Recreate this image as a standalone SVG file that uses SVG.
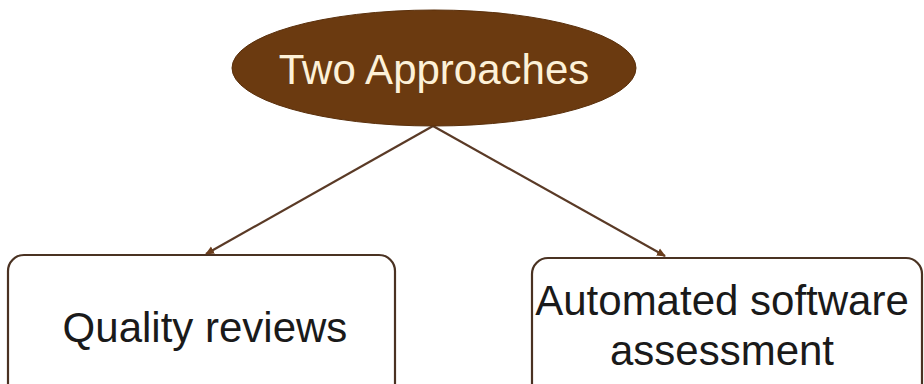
<svg xmlns="http://www.w3.org/2000/svg" width="924" height="384" viewBox="0 0 924 384">
<style>
.box{fill:#ffffff;stroke:#4a3222;stroke-width:2.2}
.lbl{font-family:"Liberation Sans",Arial,sans-serif;font-size:42px;fill:#1a1a1a;text-anchor:middle}
.conn{stroke:#5a3a26;stroke-width:2.2;fill:none;marker-end:url(#ah)}
</style>
<defs>
<marker id="ah" markerWidth="10" markerHeight="10" refX="8" refY="5" orient="auto" markerUnits="userSpaceOnUse">
<path d="M0,1 L9,5 L0,9 z" fill="#6a3d1c"/>
</marker>
</defs>
<rect width="924" height="384" fill="#ffffff"/>
<g id="connectors">
<line class="conn" x1="433" y1="126" x2="206" y2="254"/>
<line class="conn" x1="433" y1="126" x2="665" y2="256"/>
</g>
<g id="root">
<ellipse cx="434" cy="68" rx="202" ry="58" fill="#6b3a10" stroke="#5a300c" stroke-width="1"/>
<text x="434" y="84" class="lbl" style="fill:#fdf1d8">Two Approaches</text>
</g>
<g id="quality">
<rect class="box" x="8" y="255" width="387" height="150" rx="16"/>
<text x="205" y="342" class="lbl">Quality reviews</text>
</g>
<g id="automated">
<rect class="box" x="532" y="258" width="390" height="150" rx="16"/>
<text x="722" y="315" class="lbl">Automated software</text>
<text x="722" y="365" class="lbl">assessment</text>
</g>
</svg>
